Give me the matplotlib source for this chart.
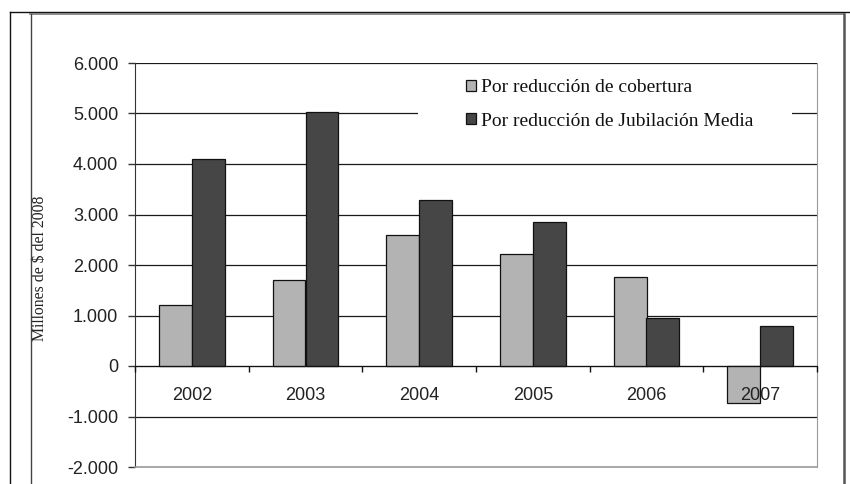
import numpy as np
import matplotlib
matplotlib.use("Agg")
import matplotlib.pyplot as plt
from matplotlib.lines import Line2D
from matplotlib.patches import Rectangle
from matplotlib.ticker import FuncFormatter

years = ["2002", "2003", "2004", "2005", "2006", "2007"]
cobertura = [1200, 1710, 2590, 2220, 1770, -730]
jubilacion = [4100, 5030, 3280, 2850, 945, 790]
labels = ["Por reducción de cobertura", "Por reducción de Jubilación Media"]
yticks = [-2000, -1000, 0, 1000, 2000, 3000, 4000, 5000, 6000]

LIGHT = "#b3b3b3"
DARK = "#464646"
W, H = 850, 484

fig = plt.figure(figsize=(8.5, 4.84), dpi=100)
ax = fig.add_axes([135 / W, 17 / H, 682 / W, 404 / H])

x = np.arange(len(years))
bw = 0.29
ax.bar(x - bw / 2, cobertura, bw, color=LIGHT, edgecolor="#111", lw=0.9,
       label=labels[0], zorder=2)
ax.bar(x + bw / 2, jubilacion, bw, color=DARK, edgecolor="#111", lw=0.9,
       label=labels[1], zorder=2)

ax.set_xlim(-0.5, len(years) - 0.5)
ax.set_ylim(yticks[0], yticks[-1])
ax.set_yticks(yticks)
ax.yaxis.set_major_formatter(
    FuncFormatter(lambda v, _: f"{v:,.0f}".replace(",", ".")))
ax.set_axisbelow(True)
ax.yaxis.grid(True, color="#1a1a1a", lw=0.9)
ax.get_ygridlines()[0].set_visible(False)
ax.xaxis.set_zorder(3)  # year labels drawn over the bars

# x axis sits on zero, category boundaries as minor ticks
ax.spines["bottom"].set_position(("data", 0))
ax.spines["bottom"].set_color("#111")
ax.spines["bottom"].set_zorder(3)
ax.spines["left"].set_color("#333")
ax.spines["top"].set_visible(False)
ax.spines["right"].set_color("#999")
ax.axhline(yticks[0], color="#999", lw=1.2, clip_on=False, zorder=3)

ax.set_xticks(x)
ax.set_xticklabels(years)
ax.set_xticks(np.arange(-0.5, len(years), 1), minor=True)
ax.tick_params(axis="x", which="major", length=0, pad=15, labelsize=13,
               labelcolor="#222")
ax.tick_params(axis="x", which="minor", length=4, width=1, color="#111",
               direction="out")
ax.tick_params(axis="y", length=5, width=1, color="#333", pad=7,
               labelsize=13, labelcolor="#222")
for t in ax.get_xticklabels() + ax.get_yticklabels():
    t.set_fontfamily("Liberation Sans")

ax.set_ylabel("Millones de $ del 2008", family="Liberation Serif",
              fontsize=11.3, color="#222")
ax.yaxis.set_label_coords((48 - 135) / 682, (467 - 268) / 404)

# white area behind the legend hides the gridline
ax.add_patch(Rectangle(((418 - 135) / 682, (467 - 160) / 404),
                       (792 - 418) / 682, 94 / 404, transform=ax.transAxes,
                       fc="white", ec="none", zorder=1))
ax.legend(loc="upper left", bbox_to_anchor=((466 - 135) / 682, (467 - 79) / 404),
          frameon=False, borderpad=0, borderaxespad=0, handlelength=0.5,
          handleheight=0.5, handletextpad=0.25, labelspacing=0.85,
          prop={"family": "Liberation Serif", "size": 14}, labelcolor="#111")

# page frame lines
def fline(xs, ys, c, lw):
    fig.add_artist(Line2D([v / W for v in xs], [1 - v / H for v in ys],
                          transform=fig.transFigure, color=c, lw=lw))

fline([9.5, 850], [11.5, 11.5], "#111", 1.0)
fline([9.5, 9.5], [11.5, 484], "#111", 1.0)
fline([30, 844], [13.8, 13.8], "#777", 1.2)
fline([30.5, 30.5], [13.8, 484], "#444", 1.0)
fline([844, 844], [13.8, 484], "#555", 1.8)

fig.savefig("out.png", dpi=100)
